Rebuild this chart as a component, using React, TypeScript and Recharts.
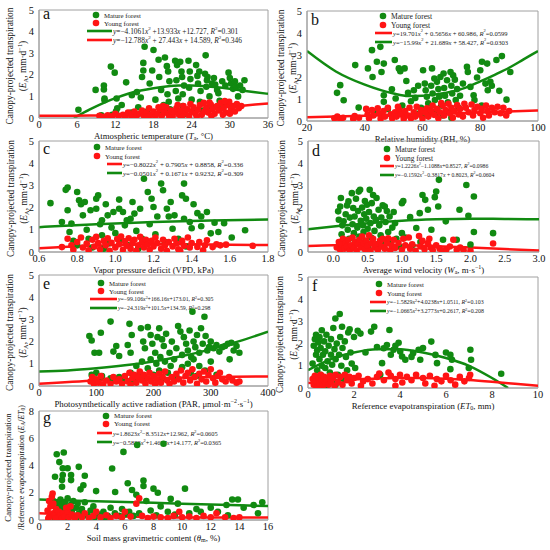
import React from 'react';
import { ComposedChart, Scatter, Line, XAxis, YAxis, ReferenceArea, Customized } from 'recharts';

type P = [number, number];

const GREEN = '#118a11';
const RED = '#ff1414';
const FONT = 'Liberation Serif';
const FRAME = '#a0a0a0';

// ---------- panel a ----------
const aXTicks = [0, 6, 12, 18, 24, 30, 36];
const aYTicks = [0, 1, 2, 3, 4, 5];
const aMature: P[] = [[6.2,0.38],[8.9,1.3],[10.2,1.5],[10.2,1.32],[10.3,0.9],[10.3,0.82],[11.3,2.38],[11.9,2.1],[12.2,0.9],[12.3,0.45],[12.1,0.3],[13.7,1.65],[14.6,1.05],[15.4,1.2],[15.6,0.5],[16.6,3.3],[16.4,2.55],[16.4,2.2],[16.2,1.9],[16.0,0.95],[17.4,1.6],[17.8,2.2],[18.0,3.15],[18.3,0.85],[18.8,2.7],[18.9,1.9],[19.2,1.3],[19.6,0.6],[19.8,2.8],[20.1,2.4],[20.3,2.15],[20.5,1.7],[20.2,1.1],[20.4,0.75],[20.6,0.4],[21.4,2.65],[21.7,2.45],[21.6,1.75],[21.5,1.25],[21.9,0.9],[22.2,2.6],[22.4,2.15],[22.5,1.9],[22.8,1.5],[22.6,1.1],[22.6,0.55],[23.5,2.65],[23.7,2.15],[23.8,1.8],[23.6,1.4],[24.0,0.85],[24.2,0.3],[24.7,2.45],[24.9,1.95],[25.0,1.6],[25.2,2.15],[25.4,1.25],[25.3,0.75],[26.2,2.9],[26.1,2.05],[26.4,1.75],[26.3,1.45],[26.5,1.9],[26.8,1.0],[27.2,1.6],[27.5,1.85],[27.7,1.55],[28.0,1.3],[28.2,1.15],[28.4,0.8],[28.8,1.7],[29.3,1.5],[29.8,2.1],[30.0,1.85],[30.2,1.6],[30.5,1.35],[30.8,1.7],[31.0,1.45],[31.3,1.0],[31.6,1.5],[32.0,1.3],[32.3,1.75],[29.0,0.6],[27.3,0.5],[25.8,0.35],[19.0,0.25],[17.0,0.3],[14.5,0.25],[11.5,0.15],[13.0,0.6],[9.8,0.12],[23.0,0.2]];
const aYoung: P[] = [[9.5,0.1],[10.2,0.05],[10.8,0.12],[11.5,0.08],[12.0,0.2],[12.5,0.1],[13.2,0.15],[13.6,0.05],[14.0,0.25],[14.5,0.12],[15.0,0.3],[15.3,0.08],[15.8,0.2],[16.2,0.35],[16.5,0.1],[16.9,0.25],[17.3,0.45],[17.6,0.15],[18.0,0.3],[18.3,0.05],[18.6,0.2],[19.0,0.4],[19.3,0.1],[19.7,0.28],[20.0,0.5],[20.3,0.18],[20.7,0.35],[21.0,0.08],[21.3,0.25],[21.6,0.45],[22.0,0.15],[22.3,0.32],[22.7,0.55],[23.0,0.22],[23.3,0.4],[23.6,0.1],[24.0,0.3],[24.3,0.5],[24.6,0.2],[25.0,0.38],[25.3,0.6],[25.6,0.15],[26.0,0.3],[26.3,0.48],[26.6,0.25],[27.0,0.62],[27.3,0.4],[27.6,0.2],[28.0,0.55],[28.3,0.35],[28.6,0.7],[29.0,0.45],[29.3,0.25],[29.6,0.6],[29.9,0.75],[30.2,0.4],[30.5,0.55],[30.8,0.3],[31.1,0.65],[31.4,0.45],[31.8,0.55],[30.0,0.2],[28.9,0.15],[27.1,0.1],[25.9,0.7],[24.8,0.08],[23.8,0.65],[22.5,0.05],[21.8,0.6],[20.5,0.02],[19.5,0.55],[18.8,0.5],[17.0,0.05],[26.8,0.72],[29.2,0.78]];
const aMatureFit: P[] = [[5.5,0],[8,0.4],[10,0.68],[12,0.92],[14,1.12],[16,1.27],[18,1.38],[20,1.46],[22,1.5],[24,1.5],[26,1.47],[28,1.42],[30,1.35],[32,1.27],[34,1.19],[36,1.12]];
const aYoungFit: P[] = [[0,0.1],[4,0.1],[8,0.11],[12,0.14],[16,0.2],[20,0.28],[24,0.37],[28,0.47],[32,0.57],[36,0.67]];

// ---------- panel b ----------
const bXTicks = [20, 40, 60, 80, 100];
const bYTicks = [0, 1, 2, 3, 4, 5];
const bMature: P[] = [[30.4,1.28],[31.5,1.63],[32.7,0.94],[36.7,2.54],[37.9,0.61],[41.1,2.39],[42.5,3.22],[42.7,2.0],[44.2,2.69],[45.4,3.37],[45.8,2.23],[46.6,2.61],[46.6,1.17],[46.6,0.87],[49.4,1.44],[50.4,2.77],[50.7,1.02],[51.8,2.39],[52.3,2.26],[53.8,2.39],[54.4,1.82],[55.0,1.28],[57.0,1.4],[58.1,0.33],[60.2,2.31],[60.8,1.7],[61.1,1.4],[61.5,1.1],[62.0,0.8],[62.5,0.5],[63.3,2.39],[63.0,1.6],[63.5,1.25],[64.1,1.93],[64.3,0.95],[64.8,0.35],[65.0,1.78],[65.5,1.45],[65.8,1.1],[66.2,2.0],[66.5,0.7],[67.3,2.16],[67.5,1.5],[67.8,1.15],[68.5,1.85],[68.8,0.85],[69.2,0.4],[69.7,2.23],[70.0,1.6],[70.3,1.25],[70.6,2.08],[71.2,1.88],[71.5,0.95],[72.0,1.45],[72.5,0.6],[73.0,1.15],[74.0,1.7],[75.4,2.46],[75.7,2.23],[76.6,1.55],[77.7,1.17],[78.9,1.98],[80.0,2.31],[80.6,2.69],[81.8,1.7],[82.4,2.61],[82.6,1.4],[83.5,1.78],[85.6,2.77],[86.6,1.37],[87.5,2.95],[89.1,0.97],[90.4,2.23],[56.0,0.9],[58.5,1.6],[59.5,0.6],[53.0,0.7],[48.0,0.55],[44.0,0.4],[70.0,0.15],[67.0,0.25],[60.0,0.2],[80.5,0.7],[78.0,0.95],[84.0,1.6],[57.5,1.05]];
const bYoung: P[] = [[29.5,0.12],[30.5,0.2],[31.5,0.08],[32.5,0.15],[36,0.1],[36.5,0.22],[38,0.15],[40.5,0.55],[41,0.3],[41.5,0.12],[42.5,0.5],[43,0.25],[44.5,0.58],[45,0.35],[45.5,0.1],[46.5,0.45],[47,0.2],[48,0.6],[49,0.3],[49.5,0.12],[50.5,0.4],[51,0.2],[52,0.5],[52.5,0.3],[53.5,0.1],[54,0.45],[55,0.25],[55.5,0.6],[56,0.12],[57,0.4],[57.5,0.2],[58,0.65],[59,0.3],[59.5,0.5],[60,0.1],[61,0.38],[61.5,0.58],[62,0.2],[63,0.45],[63.5,0.7],[64,0.28],[65,0.55],[65.5,0.12],[66,0.4],[67,0.7],[67.5,0.25],[68,0.5],[69,0.78],[69.5,0.35],[70,0.6],[70.5,0.15],[71,0.45],[72,0.72],[72.5,0.3],[73,0.55],[74,0.2],[75,0.6],[76,0.4],[77,0.75],[77.5,0.25],[78,0.5],[79,0.65],[80,0.35],[80.5,0.55],[81,0.15],[82,0.7],[82.5,0.45],[83,0.25],[84,0.6],[85,0.4],[86,0.65],[87,0.35],[88,0.6],[89,0.25],[90,0.45],[74.5,0.78],[66.5,0.82],[51.5,0.65]];
const bMatureFit: P[] = [[20,3.18],[30,2.25],[40,1.65],[50,1.25],[55,1.14],[60,1.15],[65,1.22],[70,1.33],[75,1.52],[80,1.8],[85,2.1],[90,2.42],[95,2.8],[100,3.18]];
const bYoungFit: P[] = [[20,0.17],[40,0.24],[60,0.31],[80,0.39],[100,0.48]];

// ---------- panel c ----------
const cXTicks = [0.6, 0.8, 1.0, 1.2, 1.4, 1.6, 1.8];
const cYTicks = [0, 1, 2, 3, 4, 5];
const cMature: P[] = [[0.66,2.2],[0.72,1.35],[0.74,2.8],[0.75,2.9],[0.75,1.88],[0.76,0.9],[0.77,1.28],[0.78,0.5],[0.8,2.7],[0.8,0.3],[0.81,2.33],[0.82,2.15],[0.83,1.65],[0.84,2.25],[0.85,1.0],[0.86,0.6],[0.87,1.88],[0.88,0.2],[0.9,2.4],[0.91,2.55],[0.9,1.95],[0.92,1.25],[0.93,1.43],[0.93,0.75],[0.95,2.15],[0.96,1.65],[0.97,0.4],[0.98,1.1],[0.99,1.8],[1.0,0.85],[1.02,2.36],[1.02,1.95],[1.03,0.55],[1.04,1.8],[1.05,1.2],[1.06,1.43],[1.07,0.3],[1.08,1.5],[1.09,2.25],[1.1,1.73],[1.11,0.95],[1.13,1.95],[1.14,0.6],[1.15,3.3],[1.17,2.7],[1.18,1.25],[1.19,2.4],[1.2,2.03],[1.21,0.8],[1.22,1.6],[1.24,3.08],[1.25,2.78],[1.26,0.45],[1.27,1.95],[1.28,1.6],[1.29,2.25],[1.3,1.05],[1.31,1.65],[1.33,0.6],[1.35,2.55],[1.36,3.08],[1.37,2.4],[1.36,1.5],[1.37,0.25],[1.39,1.35],[1.41,2.15],[1.4,1.07],[1.43,1.75],[1.45,1.6],[1.45,1.16],[1.48,1.8],[1.5,0.84],[1.52,1.32],[1.54,0.9],[1.57,1.3],[1.61,0.65],[1.68,0.98],[0.94,0.15],[1.12,0.15]];
const cYoung: P[] = [[0.72,0.22],[0.75,0.6],[0.77,0.3],[0.78,0.1],[0.8,0.45],[0.82,0.65],[0.83,0.2],[0.85,0.38],[0.86,0.08],[0.88,0.55],[0.89,0.25],[0.9,0.68],[0.91,0.4],[0.92,0.12],[0.94,0.5],[0.95,0.3],[0.96,0.62],[0.97,0.05],[0.98,0.42],[1.0,0.2],[1.01,0.58],[1.02,0.35],[1.03,0.7],[1.04,0.1],[1.05,0.48],[1.06,0.28],[1.07,0.62],[1.08,0.15],[1.09,0.4],[1.1,0.55],[1.11,0.05],[1.12,0.3],[1.13,0.68],[1.14,0.45],[1.15,0.2],[1.16,0.55],[1.17,0.35],[1.18,0.1],[1.19,0.5],[1.2,0.25],[1.21,0.65],[1.22,0.4],[1.24,0.15],[1.25,0.55],[1.26,0.3],[1.27,0.05],[1.28,0.45],[1.3,0.25],[1.31,0.6],[1.32,0.38],[1.33,0.12],[1.35,0.5],[1.36,0.28],[1.38,0.65],[1.39,0.2],[1.4,0.4],[1.43,0.23],[1.44,0.45],[1.48,0.53],[1.47,0.3],[1.51,0.22],[1.53,0.35],[1.55,0.3],[1.58,0.33],[1.72,0.28],[1.46,0.08],[1.34,0.05]];
const cMatureFit: P[] = [[0.6,1.12],[0.9,1.25],[1.2,1.35],[1.5,1.42],[1.8,1.46]];
const cYoungFit: P[] = [[0.6,0.17],[0.8,0.26],[1.0,0.32],[1.2,0.35],[1.4,0.35],[1.6,0.33],[1.8,0.31]];

// ---------- panel d ----------
const dXTicks = [0, 0.5, 1.0, 1.5, 2.0, 2.5, 3.0];
const dYTicks = [0, 1, 2, 3, 4, 5];
const dMature: P[] = [[0.08,1.45],[0.1,2.05],[0.11,2.43],[0.07,1.83],[0.12,0.8],[0.13,1.2],[0.15,1.38],[0.16,0.4],[0.18,1.7],[0.2,2.1],[0.21,1.0],[0.22,2.28],[0.23,0.6],[0.24,1.55],[0.25,0.2],[0.27,2.65],[0.28,1.25],[0.29,1.98],[0.3,0.85],[0.31,1.6],[0.32,0.45],[0.33,2.4],[0.35,1.1],[0.36,1.85],[0.37,2.72],[0.38,0.7],[0.39,2.8],[0.4,1.4],[0.41,0.3],[0.42,2.0],[0.43,1.2],[0.44,0.9],[0.45,1.7],[0.46,2.3],[0.47,0.5],[0.48,1.5],[0.49,2.13],[0.5,1.05],[0.51,0.15],[0.52,1.8],[0.53,2.8],[0.54,1.3],[0.55,0.65],[0.56,2.2],[0.58,2.57],[0.59,1.6],[0.6,0.95],[0.62,1.45],[0.63,2.43],[0.64,0.35],[0.66,1.9],[0.67,1.2],[0.69,0.75],[0.7,1.55],[0.72,2.1],[0.73,0.5],[0.75,2.05],[0.76,1.35],[0.78,1.85],[0.8,0.9],[0.82,1.6],[0.84,0.4],[0.86,1.1],[0.9,1.3],[0.92,0.6],[0.96,0.25],[1.0,2.2],[1.02,2.3],[1.05,0.65],[1.12,1.57],[1.21,1.08],[1.26,1.75],[1.27,0.45],[1.3,2.57],[1.34,2.35],[1.38,1.9],[1.43,1.0],[1.48,2.47],[1.5,2.72],[1.54,3.25],[1.53,2.05],[1.6,0.55],[1.64,1.38],[1.8,0.55],[1.84,1.9],[1.94,3.02],[1.97,1.63],[2.05,2.5],[2.0,0.33],[2.05,0.9],[2.33,0.85],[1.0,0.85],[1.15,0.3],[0.88,1.8]];
const dYoung: P[] = [[0.05,0.2],[0.08,0.45],[0.1,0.1],[0.12,0.35],[0.14,0.6],[0.16,0.15],[0.18,0.4],[0.2,0.25],[0.22,0.55],[0.24,0.08],[0.26,0.3],[0.28,0.65],[0.3,0.18],[0.32,0.45],[0.34,0.05],[0.36,0.35],[0.38,0.55],[0.4,0.2],[0.42,0.7],[0.44,0.4],[0.46,0.12],[0.48,0.5],[0.5,0.28],[0.52,0.75],[0.54,0.05],[0.56,0.4],[0.58,0.6],[0.6,0.2],[0.62,0.35],[0.65,0.1],[0.68,0.5],[0.7,0.25],[0.72,0.6],[0.75,0.15],[0.78,0.4],[0.8,0.62],[0.83,0.08],[0.85,0.3],[0.88,0.55],[0.9,0.18],[0.95,0.4],[1.0,0.1],[1.02,0.6],[1.05,0.3],[1.1,0.65],[1.12,0.15],[1.15,0.35],[1.2,0.05],[1.25,0.72],[1.27,0.25],[1.3,0.5],[1.33,0.12],[1.38,0.4],[1.42,0.2],[1.45,0.08],[1.5,0.3],[1.55,0.15],[1.6,0.05],[1.65,0.12],[1.7,0.25],[1.75,0.55],[1.8,0.1],[1.85,0.2],[1.9,0.08],[2.0,0.05],[2.33,0.38],[1.4,0.6]];
const dMatureFit: P[] = [[-0.37,1.02],[0,1.15],[0.5,1.3],[1.0,1.41],[1.5,1.47],[2.0,1.5],[2.5,1.49],[3.0,1.47]];
const dYoungFit: P[] = [[-0.37,0.27],[0,0.3],[0.5,0.31],[1.0,0.3],[1.5,0.26],[2.0,0.2],[2.5,0.13],[3.0,0.07]];

// ---------- panel e ----------
const eXTicks = [0, 100, 200, 300, 400];
const eYTicks = [0, 1, 2, 3, 4, 5];
const eMature: P[] = [[88,2.25],[92,2.05],[97,1.5],[105,1.5],[108,2.4],[125,2.9],[130,1.55],[135,1.8],[140,1.35],[155,1.85],[158,2.8],[160,1.5],[162,2.3],[178,2.6],[182,2.0],[185,1.7],[190,2.65],[195,2.3],[198,1.9],[203,1.5],[207,2.2],[210,2.6],[212,1.3],[215,2.1],[218,1.8],[222,2.35],[228,1.5],[232,2.0],[236,1.2],[240,1.7],[243,2.7],[247,2.45],[250,1.4],[253,2.2],[257,1.9],[260,1.6],[263,2.5],[266,1.3],[268,3.35],[270,2.0],[273,1.75],[276,2.3],[280,1.5],[283,2.6],[286,1.9],[289,3.12],[291,2.25],[294,1.6],[297,1.75],[300,2.0],[305,1.7],[310,1.85],[315,1.55],[320,1.75],[325,1.8],[330,1.9],[333,1.2],[336,1.95],[340,1.6],[345,1.8],[350,1.5],[92,0.5],[95,0.3],[100,0.6],[103,0.2],[110,0.45],[125,0.35],[130,0.25],[140,0.4],[150,0.3],[160,0.6],[165,0.2],[170,0.9],[175,0.5],[180,1.1],[185,0.35],[190,0.8],[195,1.2],[200,0.5],[205,1.0],[210,0.7],[215,0.3],[220,1.1],[225,0.6],[230,0.9],[240,0.4],[250,0.85],[260,1.0],[265,0.6],[270,1.2],[275,0.45],[280,0.9],[290,0.7],[300,1.1],[310,0.5]];
const eYoung: P[] = [[90,0.2],[93,0.4],[96,0.1],[100,0.3],[104,0.15],[108,0.45],[112,0.08],[118,0.25],[125,0.1],[130,0.4],[135,0.2],[140,0.3],[145,0.1],[150,0.45],[155,0.2],[158,0.6],[160,0.05],[163,0.35],[166,0.5],[170,0.15],[173,0.4],[176,0.65],[180,0.25],[183,0.5],[186,0.1],[190,0.35],[193,0.6],[196,0.2],[200,0.45],[203,0.08],[206,0.3],[210,0.55],[213,0.15],[216,0.4],[220,0.65],[224,0.25],[228,0.1],[232,0.4],[236,0.2],[240,0.55],[244,0.3],[248,0.7],[252,0.15],[256,0.45],[260,0.6],[264,0.25],[268,0.75],[272,0.4],[276,0.1],[280,0.55],[284,0.3],[288,0.65],[292,0.2],[296,0.5],[300,0.75],[304,0.35],[308,0.15],[312,0.45],[316,0.6],[320,0.3],[326,0.2],[332,0.4],[338,0.25],[345,0.15],[350,0.2]];
const eMatureFit: P[] = [[0,0.65],[50,0.7],[100,0.8],[150,0.93],[200,1.1],[250,1.35],[300,1.65],[350,2.02],[400,2.45]];
const eYoungFit: P[] = [[0,0.1],[100,0.25],[200,0.35],[300,0.41],[400,0.43]];

// ---------- panel f ----------
const fXTicks = [0, 2, 4, 6, 8, 10];
const fYTicks = [0, 1, 2, 3, 4, 5];
const fMature: P[] = [[0.2,1.1],[0.25,1.9],[0.3,2.2],[0.3,0.5],[0.35,1.5],[0.35,2.4],[0.4,0.8],[0.4,1.7],[0.45,2.05],[0.45,0.3],[0.5,1.3],[0.5,2.3],[0.55,0.6],[0.55,1.8],[0.6,1.0],[0.6,2.6],[0.65,1.5],[0.65,0.2],[0.7,2.1],[0.75,0.9],[0.75,1.65],[0.8,2.4],[0.85,1.2],[0.85,0.45],[0.9,1.9],[0.95,0.7],[1.0,1.5],[1.0,2.2],[1.05,1.05],[1.1,2.7],[1.1,0.35],[1.15,1.75],[1.19,3.13],[1.2,1.3],[1.25,2.0],[1.3,0.6],[1.35,1.5],[1.38,3.33],[1.4,2.3],[1.45,1.0],[1.48,2.76],[1.5,1.8],[1.55,0.4],[1.6,2.1],[1.65,1.4],[1.7,0.8],[1.75,2.5],[1.81,2.64],[1.85,1.6],[1.9,1.1],[2.0,2.3],[2.05,0.9],[2.16,2.58],[2.28,2.45],[2.74,2.54],[2.88,2.76],[3.14,0.6],[3.22,1.12],[3.29,1.79],[3.43,1.94],[3.54,2.61],[3.72,1.72],[3.94,2.04],[4.01,1.64],[4.09,1.42],[4.23,1.27],[4.57,1.57],[4.81,1.72],[4.88,1.27],[5.36,2.09],[5.54,1.49],[5.61,1.12],[6.19,1.49],[6.26,1.27],[6.19,0.85],[7.06,1.72],[7.09,1.27],[6.99,0.9],[8.4,0.64],[3.8,1.9],[4.5,1.4],[5.0,1.8],[6.0,1.6],[2.5,1.6],[1.2,0.15],[0.8,0.1],[3.0,1.85],[3.6,1.5]];
const fYoung: P[] = [[0.2,0.4],[0.25,0.15],[0.3,0.55],[0.35,0.3],[0.4,0.05],[0.45,0.45],[0.5,0.2],[0.55,0.6],[0.6,0.35],[0.65,0.1],[0.7,0.5],[0.75,0.25],[0.8,0.4],[0.9,0.15],[0.95,0.55],[1.0,0.3],[1.1,0.45],[1.15,0.1],[1.2,0.6],[1.3,0.25],[1.4,0.5],[1.5,0.15],[1.6,0.6],[1.7,0.35],[1.8,0.5],[1.9,0.2],[2.0,0.45],[2.2,0.55],[2.4,0.3],[2.6,0.4],[2.8,0.2],[3.0,0.5],[3.1,0.65],[3.3,0.35],[3.5,0.7],[3.6,0.55],[3.8,0.4],[4.0,0.6],[4.1,0.25],[4.3,0.5],[4.5,0.35],[4.7,0.6],[5.0,0.45],[5.1,0.2],[5.3,0.55],[5.6,0.4],[5.8,0.3],[6.0,0.55],[6.2,0.35],[6.4,0.15],[6.6,0.5],[6.8,0.3],[7.0,0.45],[7.05,0.6],[2.3,0.1],[3.8,0.1],[5.5,0.1]];
const fMatureFit: P[] = [[0,0.8],[1,1.3],[2,1.6],[3,1.75],[4,1.75],[5,1.6],[6,1.35],[7,1.0],[8,0.45],[8.7,0]];
const fYoungFit: P[] = [[0,0.22],[1,0.32],[2,0.38],[3,0.43],[4,0.45],[5,0.45],[6,0.42],[7,0.36],[8,0.28],[9,0.19],[10,0.1]];

// ---------- panel g ----------
const gXTicks = [0, 2, 4, 6, 8, 10, 12, 14, 16];
const gYTicks = [0, 2, 4, 6, 8];
const gMature: P[] = [[1.24,4.83],[1.73,4.95],[1.42,4.25],[1.12,3.17],[1.66,3.8],[2.0,3.8],[1.66,3.3],[1.61,2.93],[1.61,2.44],[2.24,3.3],[2.24,2.93],[2.78,3.9],[3.2,3.25],[3.1,2.55],[2.9,2.25],[3.99,2.12],[5.11,3.78],[5.32,2.05],[5.9,5.0],[6.2,2.7],[6.86,5.5],[8.7,5.6],[6.5,2.2],[6.8,1.85],[7.3,2.9],[7.3,2.5],[8.0,2.3],[8.3,2.0],[9.2,1.55],[10.2,2.3],[7.5,1.4],[8.5,1.0],[9.0,0.6],[9.7,1.2],[11.0,0.8],[11.3,0.6],[12.0,0.9],[12.5,0.6],[13.1,1.1],[13.5,1.5],[13.9,1.5],[14.3,0.9],[15.0,1.1],[15.3,0.5],[15.6,1.3],[13.2,0.35],[10.5,0.5],[1.0,1.4],[1.1,1.0],[1.2,0.6],[1.3,1.2],[1.4,0.3],[1.5,1.5],[1.5,0.8],[1.6,1.1],[1.7,0.5],[1.8,1.3],[1.8,0.2],[1.9,0.9],[2.0,1.6],[2.1,0.4],[2.2,1.1],[2.3,0.7],[2.4,1.4],[2.5,0.3],[2.6,0.9],[2.7,1.2],[2.8,0.5],[3.0,0.8],[3.2,1.3],[3.4,0.3],[3.6,0.7],[3.8,1.0],[4.2,0.4],[4.5,0.6],[4.8,0.3],[5.0,0.9],[5.3,0.5],[5.6,0.3],[5.8,0.8],[6.0,0.4],[6.3,0.6],[6.6,0.3],[7.0,0.5],[7.8,0.7],[8.2,0.35],[9.5,0.4],[1.1,0.15],[2.6,0.15],[3.9,0.2],[4.6,0.15]];
const gYoung: P[] = [[0.6,0.7],[0.7,1.4],[0.8,1.0],[0.8,0.4],[0.9,1.7],[0.95,1.95],[1.0,0.5],[1.0,1.2],[1.1,0.3],[1.2,0.8],[1.3,0.2],[1.4,0.6],[1.5,0.35],[1.6,0.15],[1.7,0.5],[1.8,0.25],[2.0,0.6],[2.1,0.2],[2.3,0.4],[2.5,0.15],[2.7,0.35],[3.0,0.2],[3.2,0.5],[3.5,0.15],[3.8,0.3],[4.0,0.6],[4.3,0.2],[4.7,0.35],[5.0,0.15],[5.4,0.3],[5.8,0.2],[6.0,0.6],[6.4,0.25],[6.8,1.2],[7.0,1.6],[7.2,0.3],[7.6,0.15],[8.0,0.25],[8.5,0.2],[9.0,0.15],[9.4,0.3],[9.8,0.6],[10.0,0.2],[10.5,0.25],[11.0,0.15],[11.5,0.3],[12.0,0.2],[12.4,0.5],[13.0,0.2],[13.6,0.15],[14.0,0.2],[0.7,0.2],[1.9,0.9],[2.2,1.0],[0.65,0.1],[1.15,0.1]];
const gMatureFit: P[] = [[0,1.5],[4,1.38],[8,1.26],[12,1.14],[16,1.02]];
const gYoungFit: P[] = [[0,0.5],[2,0.4],[4,0.32],[6,0.25],[8,0.21],[10,0.19],[12,0.19],[14,0.19],[16,0.19]];

// ---------- text helpers ----------
type Tok = { t: string; it: boolean; pos: number };
function parseRich(s: string): Tok[] {
  const toks: Tok[] = [];
  let it = false;
  const push = (t: string, pos: number, ital: boolean) => {
    const last = toks[toks.length - 1];
    if (last && last.it === ital && last.pos === pos) last.t += t;
    else toks.push({ t, it: ital, pos });
  };
  for (let i = 0; i < s.length; i++) {
    const c = s[i];
    if (c === '*') { it = !it; continue; }
    if (c === '^' || c === '_') {
      const pos = c === '^' ? 1 : -1;
      let txt = '';
      if (s[i + 1] === '{') { const j = s.indexOf('}', i + 2); txt = s.slice(i + 2, j); i = j; }
      else { txt = s[i + 1]; i++; }
      push(txt, pos, false);
      continue;
    }
    push(c, 0, it);
  }
  return toks;
}
function Rich({ s, fs }: { s: string; fs: number }) {
  const toks = parseRich(s);
  let cur = 0;
  return (
    <>
      {toks.map((tk, k) => {
        const target = tk.pos === 1 ? -0.38 * fs : tk.pos === -1 ? 0.25 * fs : 0;
        const dy = target - cur;
        cur = target;
        return (
          <tspan key={k} dy={dy} fontStyle={tk.it ? 'italic' : 'normal'} fontSize={tk.pos ? fs * 0.68 : fs}>
            {tk.t}
          </tspan>
        );
      })}
    </>
  );
}

type LegendSpec = {
  mx: number; my1: number; my2: number;
  lx1: number; lx2: number; ly1: number; ly2: number; tx: number;
  lfs: number; efs: number;
  eqs: { color: string; text: string }[];
};

type PanelProps = {
  left: number; top: number; w: number; h: number;
  letter: string; letterY: number;
  xDomain: [number, number]; xTicks: number[]; xDec: number;
  yDomain: [number, number]; yTicks: number[];
  xTitle: string; yTitle: [string, string]; yFs: [number, number]; yOff: [number, number];
  mature: P[]; young: P[]; matureFit: P[]; youngFit: P[];
  legend: LegendSpec;
};

const toPts = (arr: P[]) => arr.map(([x, y]) => ({ x, y }));

const ML = 40;
const MT = 16;
const MR = 12;
const XT_FS = 8.8;

function Panel(p: PanelProps) {
  const W = p.w + ML + MR;
  const H = p.h + MT + 32;
  const L = p.legend;
  const overlay = () => (
    <g fontFamily={FONT} style={{ whiteSpace: 'pre' }}>
      <text x={ML + 4} y={MT + p.letterY} fontSize={16} fill="#111">{p.letter}</text>
      <circle cx={ML + L.mx} cy={MT + L.my1} r={3.3} fill={GREEN} />
      <text x={ML + L.mx + 8} y={MT + L.my1} fontSize={L.lfs} dominantBaseline="central" fill="#222">Mature forest</text>
      <circle cx={ML + L.mx} cy={MT + L.my2} r={3.3} fill={RED} />
      <text x={ML + L.mx + 8} y={MT + L.my2} fontSize={L.lfs} dominantBaseline="central" fill="#222">Young forest</text>
      {L.eqs.map((e, i) => {
        const y = MT + (i === 0 ? L.ly1 : L.ly2);
        return (
          <g key={i}>
            <line x1={ML + L.lx1} x2={ML + L.lx2} y1={y} y2={y} stroke={e.color} strokeWidth={2.6} />
            <text x={ML + L.tx} y={y} fontSize={L.efs} dominantBaseline="central" fill="#222">
              <Rich s={e.text} fs={L.efs} />
            </text>
          </g>
        );
      })}
      <text x={ML + p.w / 2} y={MT + p.h + 18} fontSize={XT_FS} textAnchor="middle" dominantBaseline="central" fill="#111">
        <Rich s={p.xTitle} fs={XT_FS} />
      </text>
      {p.yTitle.map((t, i) => {
        const cx = ML + p.yOff[i];
        const cy = MT + p.h / 2 + 2;
        return (
          <text key={i} x={cx} y={cy} transform={`rotate(-90 ${cx} ${cy})`} fontSize={p.yFs[i]} textAnchor="middle" dominantBaseline="central" fill="#111">
            <Rich s={t} fs={p.yFs[i]} />
          </text>
        );
      })}
    </g>
  );
  const dot = (color: string) => (props: any) => <circle cx={props.cx} cy={props.cy} r={3.3} fill={color} />;
  const tickStyle = { fontSize: 10.4, fill: '#111', fontFamily: FONT };
  return (
    <div style={{ position: 'absolute', left: p.left - ML, top: p.top - MT, width: W, height: H, fontFamily: FONT }}>
      <ComposedChart width={W} height={H} margin={{ top: MT, right: MR, bottom: 0, left: 0 }}>
        <XAxis
          type="number" dataKey="x" domain={p.xDomain} ticks={p.xTicks} allowDataOverflow interval={0}
          height={32} tickLine={false} tickSize={0} tickMargin={3}
          axisLine={{ stroke: FRAME }} tick={tickStyle}
          tickFormatter={(v: number) => v.toFixed(p.xDec)}
        />
        <YAxis
          type="number" dataKey="y" domain={p.yDomain} ticks={p.yTicks} allowDataOverflow interval={0}
          width={ML} tickLine={false} tickSize={0} tickMargin={5}
          axisLine={{ stroke: FRAME }} tick={tickStyle}
        />
        <ReferenceArea x1={p.xDomain[0]} x2={p.xDomain[1]} y1={p.yDomain[0]} y2={p.yDomain[1]} fill="none" stroke={FRAME} strokeWidth={1} />
        <Scatter name="Mature forest" data={toPts(p.mature)} dataKey="y" fill={GREEN} shape={dot(GREEN)} isAnimationActive={false} />
        <Scatter name="Young forest" data={toPts(p.young)} dataKey="y" fill={RED} shape={dot(RED)} isAnimationActive={false} />
        <Line data={toPts(p.matureFit)} dataKey="y" type="monotone" stroke={GREEN} strokeWidth={2.5} dot={false} activeDot={false} isAnimationActive={false} />
        <Line data={toPts(p.youngFit)} dataKey="y" type="monotone" stroke={RED} strokeWidth={2.5} dot={false} activeDot={false} isAnimationActive={false} />
        <Customized component={overlay} />
      </ComposedChart>
    </div>
  );
}

const Y1: [string, string] = ['Canopy-projected transpiration', '(*E*_A, mm·d^{−1})'];
const YF: [number, number] = [9.4, 9.4];

export default function App() {
  return (
    <div style={{ position: 'absolute', left: 0, top: 0, width: 550, height: 550, background: '#fff', overflow: 'hidden', fontFamily: FONT }}>
      <Panel left={39} top={10} w={229} h={108} letter="a" letterY={9}
        xDomain={[0, 36]} xTicks={aXTicks} xDec={0} yDomain={[0, 5]} yTicks={aYTicks}
        xTitle="Atmospheric temperature (*T*_a, °C)" yTitle={Y1} yFs={YF} yOff={[-29, -16]}
        mature={aMature} young={aYoung} matureFit={aMatureFit} youngFit={aYoungFit}
        legend={{ mx: 57, my1: 5, my2: 13, lx1: 48, lx2: 73, ly1: 21, ly2: 30, tx: 74, lfs: 6.8, efs: 7.4, eqs: [
          { color: GREEN, text: '*y*=−4.1061*x*^2 +13.933*x* +12.727, *R*^2=0.301' },
          { color: RED, text: '*y*=−12.788*x*^2 + 27.443*x* + 14.589, *R*^2=0.346' },
        ] }} />
      <Panel left={307} top={11} w={231} h={110} letter="b" letterY={14}
        xDomain={[20, 100]} xTicks={bXTicks} xDec={0} yDomain={[0, 5]} yTicks={bYTicks}
        xTitle="Relative humidity (RH, %)" yTitle={Y1} yFs={YF} yOff={[-26, -14]}
        mature={bMature} young={bYoung} matureFit={bMatureFit} youngFit={bYoungFit}
        legend={{ mx: 76, my1: 5, my2: 14, lx1: 68, lx2: 85, ly1: 22, ly2: 31, tx: 86, lfs: 7.6, efs: 6.6, eqs: [
          { color: RED, text: '*y*=19.701*x*^2 + 0.5656*x* + 60.986, *R*^2=0.0599' },
          { color: GREEN, text: '*y*=−15.99*x*^2 + 21.689*x* + 58.427, *R*^2=0.0303' },
        ] }} />
      <Panel left={39} top={141} w={229} h={111} letter="c" letterY={13}
        xDomain={[0.6, 1.8]} xTicks={cXTicks} xDec={1} yDomain={[0, 5]} yTicks={cYTicks}
        xTitle="Vapor pressure deficit (VPD, kPa)" yTitle={Y1} yFs={YF} yOff={[-28, -15]}
        mature={cMature} young={cYoung} matureFit={cMatureFit} youngFit={cYoungFit}
        legend={{ mx: 58, my1: 6, my2: 15, lx1: 68, lx2: 83, ly1: 23, ly2: 32, tx: 84, lfs: 6.8, efs: 6.9, eqs: [
          { color: RED, text: '*y*=−0.8022*x*^2 + 0.7905*x* + 0.8858, *R*^2=0.336' },
          { color: GREEN, text: '*y*=−0.0501*x*^2 + 0.1671*x* + 0.9232, *R*^2=0.309' },
        ] }} />
      <Panel left={308} top={141} w={231} h={111} letter="d" letterY={15}
        xDomain={[-0.37, 3.0]} xTicks={dXTicks} xDec={1} yDomain={[0, 5]} yTicks={dYTicks}
        xTitle="Average wind velocity (*W*_a, m·s^{−1})" yTitle={Y1} yFs={YF} yOff={[-26, -13]}
        mature={dMature} young={dYoung} matureFit={dMatureFit} youngFit={dYoungFit}
        legend={{ mx: 79, my1: 8, my2: 17, lx1: 72, lx2: 86, ly1: 25, ly2: 34, tx: 87, lfs: 7.4, efs: 5.7, eqs: [
          { color: RED, text: '*y*=1.2226*x*^2−1.1088*x*+0.8527, *R*^2=0.0986' },
          { color: GREEN, text: '*y*=−0.1592*x*^2−0.3817*x* + 0.8023, *R*^2=0.0604' },
        ] }} />
      <Panel left={39} top={275} w={229} h={111} letter="e" letterY={14}
        xDomain={[0, 400]} xTicks={eXTicks} xDec={0} yDomain={[0, 5]} yTicks={eYTicks}
        xTitle="Photosynthetically active radiation (PAR, μmol·m^{−2}·s^{−1})" yTitle={Y1} yFs={YF} yOff={[-29, -16]}
        mature={eMature} young={eYoung} matureFit={eMatureFit} youngFit={eYoungFit}
        legend={{ mx: 62, my1: 8, my2: 16, lx1: 51, lx2: 78, ly1: 24, ly2: 33, tx: 79, lfs: 6.8, efs: 5.8, eqs: [
          { color: RED, text: '*y*=−99.106*x*^2+166.16*x*+173.01, *R*^2=0.305' },
          { color: GREEN, text: '*y*=−24.319*x*^2+101.5*x*+134.59, *R*^2=0.298' },
        ] }} />
      <Panel left={308} top={277} w={230} h={111} letter="f" letterY={14}
        xDomain={[0, 10]} xTicks={fXTicks} xDec={0} yDomain={[0, 5]} yTicks={fYTicks}
        xTitle="Reference evapotranspiration (*ET*_0, mm)" yTitle={Y1} yFs={YF} yOff={[-28, -14]}
        mature={fMature} young={fYoung} matureFit={fMatureFit} youngFit={fYoungFit}
        legend={{ mx: 71, my1: 7, my2: 16, lx1: 62, lx2: 78, ly1: 25, ly2: 34, tx: 79, lfs: 6.8, efs: 5.9, eqs: [
          { color: RED, text: '*y*=−1.5829*x*^2+4.0238*x*+1.0511, *R*^2=0.103' },
          { color: GREEN, text: '*y*=−1.0665*x*^2+3.2773*x*+0.2617, *R*^2=0.208' },
        ] }} />
      <Panel left={39} top={411} w={229} h={109} letter="g" letterY={12}
        xDomain={[0, 16]} xTicks={gXTicks} xDec={0} yDomain={[0, 8]} yTicks={gYTicks}
        xTitle="Soil mass gravimetric content (*θ*_m, %)"
        yTitle={['Canopy-projected transpiration', '/Reference evapotranspiration (*E*_A/*ET*_0)']} yFs={[8.7, 7.9]} yOff={[-31, -18]}
        mature={gMature} young={gYoung} matureFit={gMatureFit} youngFit={gYoungFit}
        legend={{ mx: 67, my1: 5, my2: 13, lx1: 58, lx2: 73, ly1: 22, ly2: 31, tx: 74, lfs: 7.0, efs: 6.4, eqs: [
          { color: RED, text: '*y*=1.8623*x*^2−8.3512*x*+12.962, *R*^2=0.0605' },
          { color: GREEN, text: '*y*=−0.5888*x*^2+1.4697*x*+14.177, *R*^2=0.0365' },
        ] }} />
    </div>
  );
}
